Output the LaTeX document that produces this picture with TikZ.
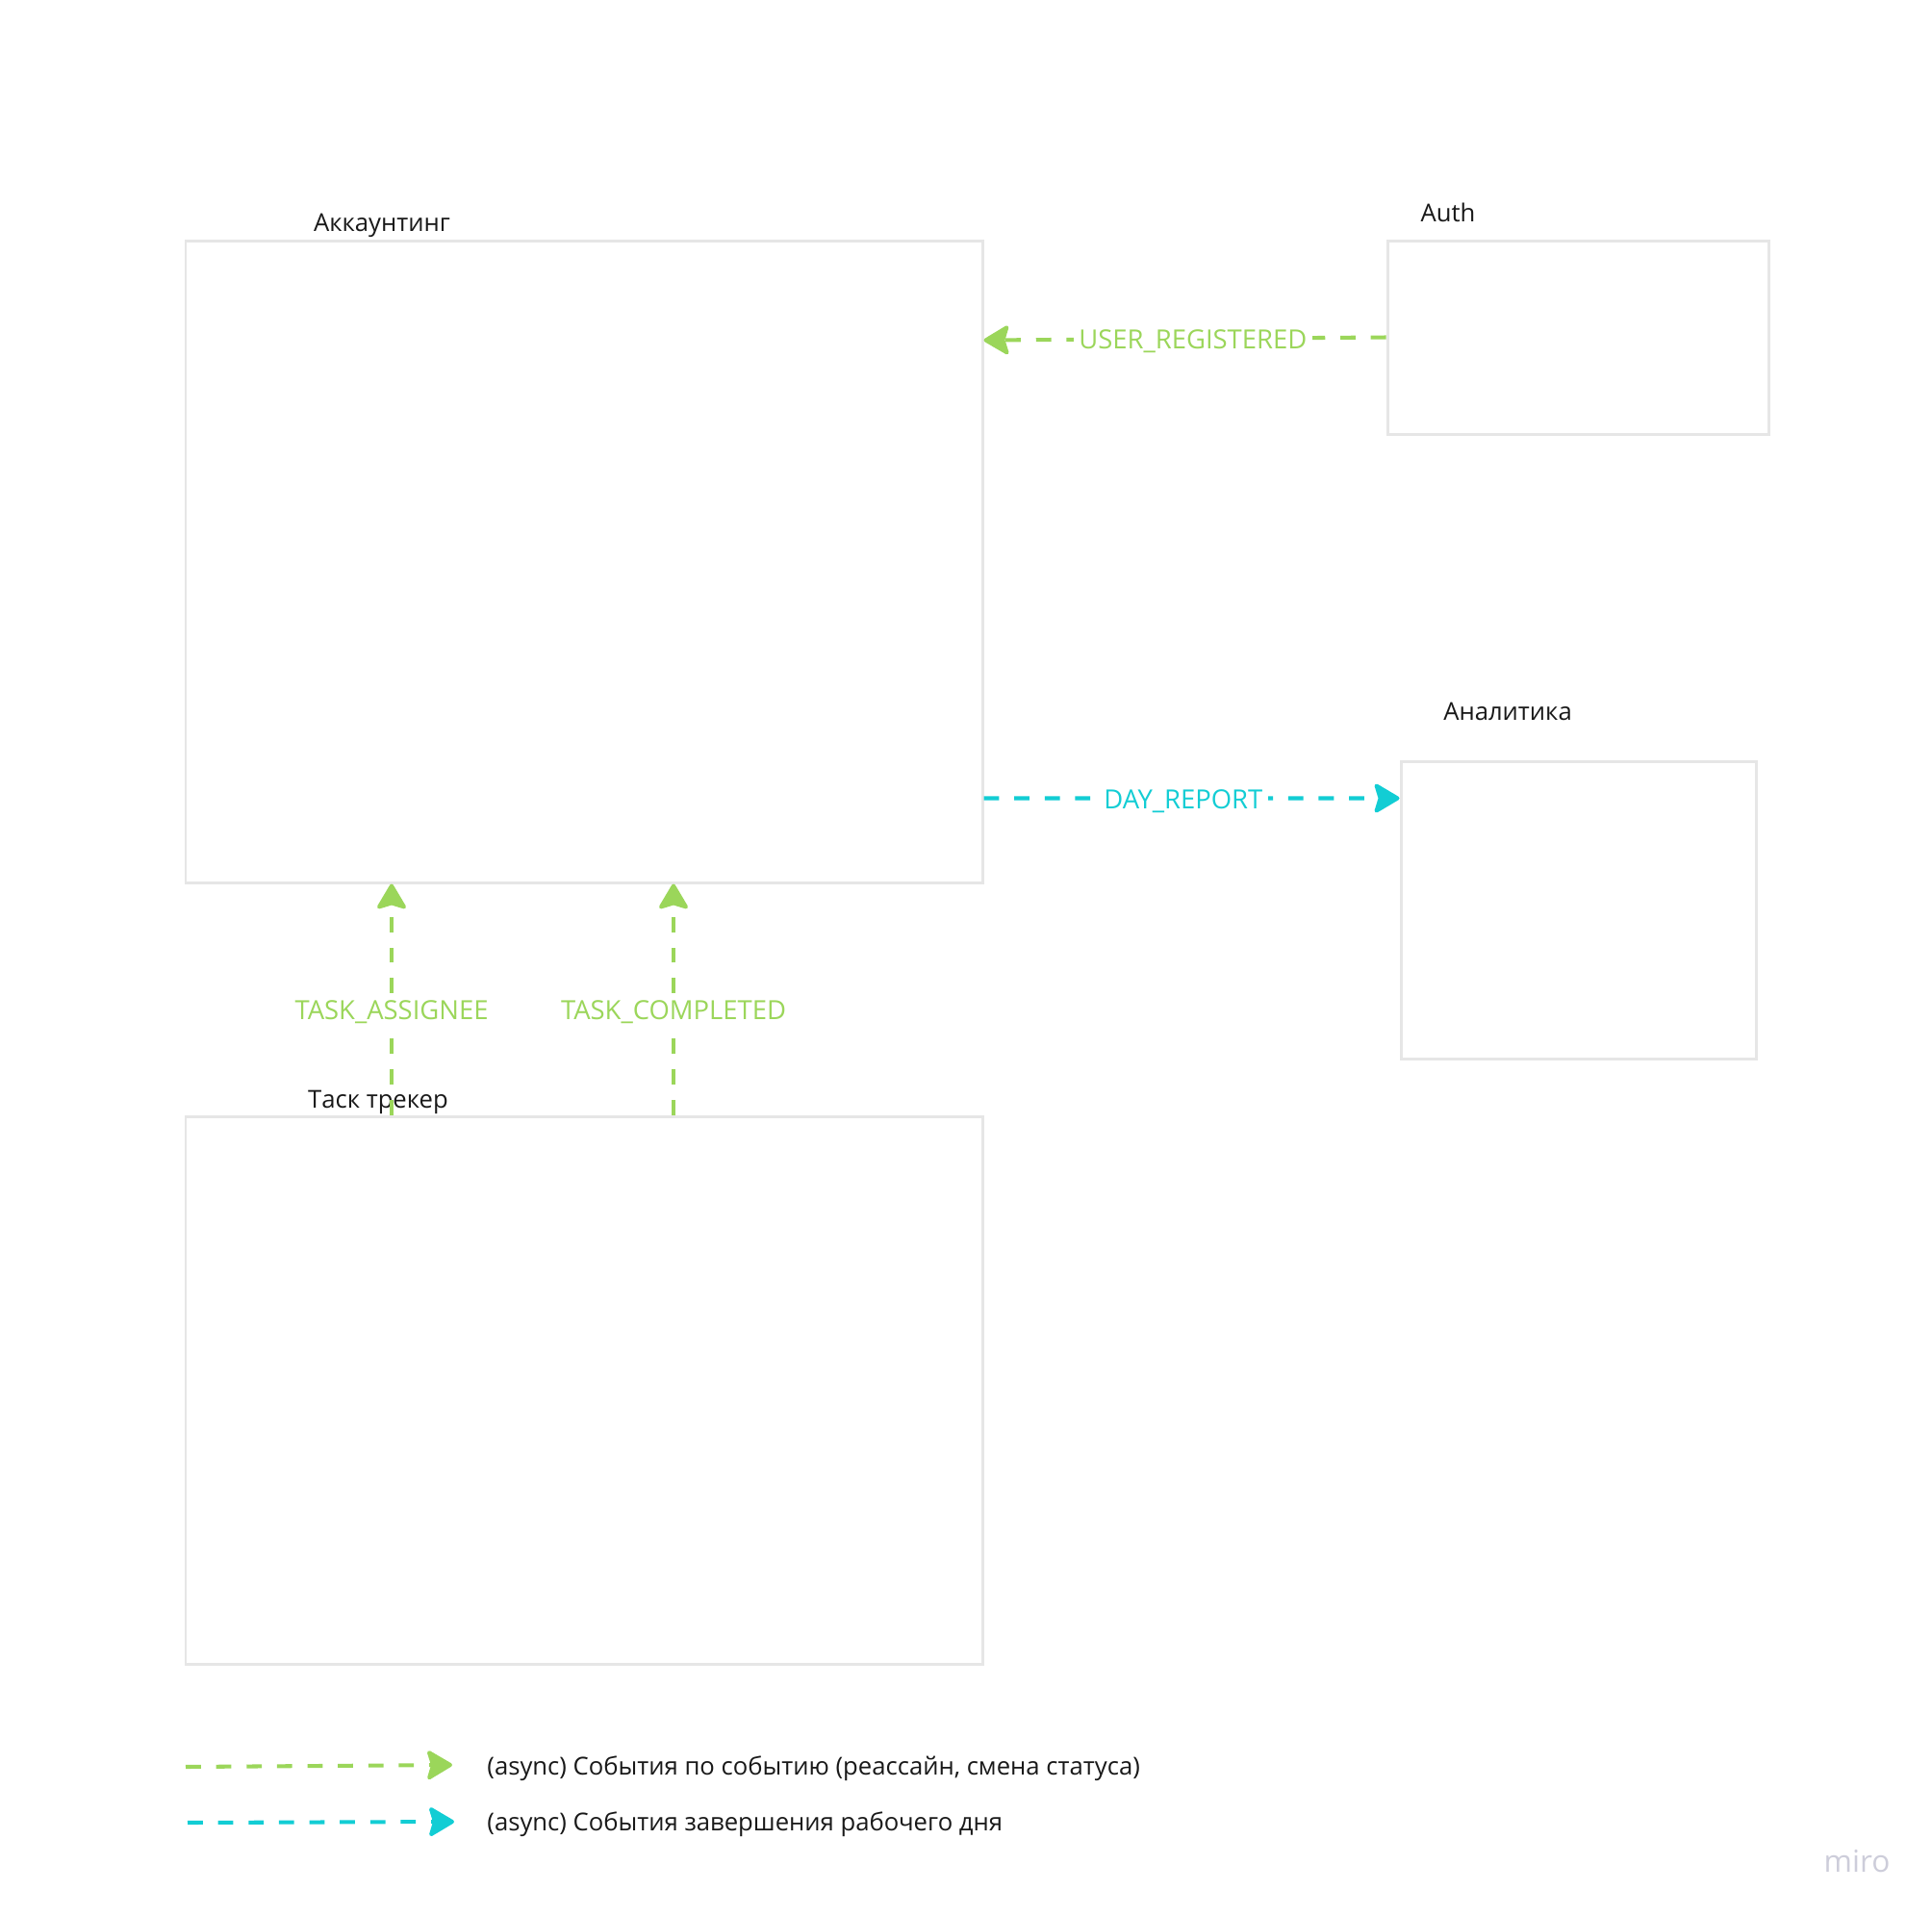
\documentclass[tikz,border=0pt]{standalone}
\usepackage{fontspec}
\setmainfont{Open Sans}
\definecolor{boxgray}{RGB}{230,230,230}
\definecolor{evgreen}{RGB}{155,214,90}
\definecolor{evcyan}{RGB}{18,205,212}
\definecolor{logogray}{RGB}{205,205,218}
\usetikzlibrary{arrows.meta,positioning,calc}

\begin{document}
\begin{tikzpicture}[
      service/.style={draw=boxgray, line width=0.85pt, inner sep=0pt},
      title/.style={font=\fontsize{7.3}{8.8}\selectfont, text=black!90},
      evlabel/.style={font=\fontsize{7.8}{9.4}\selectfont, fill=white,
        inner sep=1.5pt, yshift=-0.03cm},
      async/.style={-{Stealth[length=0.29cm, width=0.34cm, inset=0.05cm,
        round]}, line width=1.15pt, dash pattern=on 4.5pt off 4.5pt,
        color=evgreen},
      daily/.style={async, color=evcyan},
    ]
    \useasboundingbox (0,0) rectangle (20.08,-19.91);
    % Services
    \node[service, minimum width=8.28cm, minimum height=6.67cm]
      (acc) at (6.07,-5.835) {};
    \node[service, minimum width=3.96cm, minimum height=2.01cm]
      (auth) at (16.40,-3.505) {};
    \node[service, minimum width=3.69cm, minimum height=3.09cm]
      (ana) at (16.405,-9.455) {};
    \node[service, minimum width=8.28cm, minimum height=5.69cm]
      (tracker) at (6.07,-14.445) {};
    % Titles
    \node[title] (acctitle) at (3.97,-2.34) {Аккаунтинг};
    \node[title] (authtitle) at (15.05,-2.21) {Auth};
    \node[title] (anatitle) at (15.67,-7.39) {Аналитика};
    \node[title] (trackertitle) at (3.93,-11.45) {Таск трекер};

    % Events between services
    \coordinate (accin) at ($(acc.north east)+(0,-1.05)$);
    \coordinate (accout) at ($(acc.north east)+(0,-5.81)$);
    \coordinate (anain) at ($(ana.north west)+(0,-0.40)$);
    \draw[async] (auth.west) -- node[evlabel, text=evgreen, pos=0.48]
      {USER\_REGISTERED} (accin);
    \draw[daily] (accout) -- node[evlabel, text=evcyan, pos=0.48]
      {DAY\_REPORT} (anain);
    \draw[async] (tracker.north -| 4.07,0) -- node[evlabel, text=evgreen,
      pos=0.458] {TASK\_ASSIGNEE} (acc.south -| 4.07,0);
    \draw[async] (tracker.north -| 7.00,0) -- node[evlabel, text=evgreen,
      pos=0.458] {TASK\_COMPLETED} (acc.south -| 7.00,0);

    % Legend
    \coordinate (leg1a) at (1.93,-18.36);
    \coordinate (leg1b) at (4.70,-18.34);
    \coordinate (leg2a) at (1.95,-18.94);
    \coordinate (leg2b) at (4.72,-18.93);
    \draw[async] (leg1a) -- (leg1b);
    \draw[daily] (leg2a) -- (leg2b);
    \node[title, anchor=west] (leg1) at (4.94,-18.375)
      {(async) События по событию (реассайн, смена статуса)};
    \node[title, anchor=west] (leg2) at (4.94,-18.955)
      {(async) События завершения рабочего дня};

    \node[font=\fontsize{9}{11}\selectfont, text=logogray] (logo)
      at (19.30,-19.34) {miro};
  \end{tikzpicture}
\end{document}
